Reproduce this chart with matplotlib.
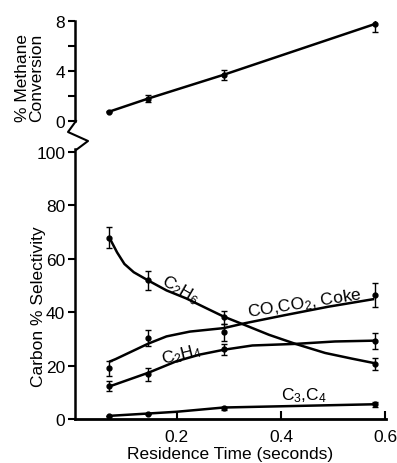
import numpy as np
import matplotlib
matplotlib.use("Agg")
import matplotlib.pyplot as plt
from matplotlib.lines import Line2D

plt.rcParams['font.family'] = ['Liberation Sans', 'DejaVu Sans']
plt.rcParams['mathtext.fontset'] = 'custom'
plt.rcParams['mathtext.rm'] = 'Liberation Sans'
plt.rcParams['mathtext.it'] = 'Liberation Sans'

# residence time of the measured points (seconds)
res_time = [0.07, 0.145, 0.29, 0.58]

# methane conversion (%)
conv = [0.75, 1.8, 3.7, 7.75]
conv_err = [0.05, 0.25, 0.4, 0.65]

# carbon selectivity (%), measured points
c2h6 = [67.8, 51.9, 38.1, 20.7]
c2h6_err = [4.0, 3.6, 2.4, 2.2]
cox = [18.9, 30.4, 32.4, 46.3]
cox_err = [2.8, 3.0, 3.2, 4.4]
c2h4 = [12.3, 16.7, 26.0, 29.3]
c2h4_err = [2.0, 2.4, 2.0, 3.0]
c34 = [1.0, 2.0, 4.0, 5.5]
c34_err = [0.0, 0.0, 0.5, 1.0]

# hand drawn fitted curves
c2h6_fit_x = [0.071, 0.085, 0.099, 0.117, 0.144, 0.180, 0.218, 0.257, 0.290,
              0.330, 0.377, 0.428, 0.485, 0.536, 0.577]
c2h6_fit_y = [67.5, 62.3, 58.0, 54.9, 51.9, 48.1, 45.1, 41.4, 38.3,
              35.2, 31.5, 28.1, 24.7, 22.6, 21.0]
cox_fit_x = [0.072, 0.082, 0.145, 0.18, 0.225, 0.29, 0.33, 0.409, 0.491, 0.577]
cox_fit_y = [21.6, 22.4, 28.2, 30.9, 32.7, 34.0, 35.8, 38.9, 42.0, 44.8]
c2h4_fit_x = [0.072, 0.145, 0.199, 0.244, 0.29, 0.345, 0.428, 0.504, 0.577]
c2h4_fit_y = [12.3, 17.3, 21.6, 24.1, 25.9, 27.5, 28.1, 29.0, 29.3]
c34_fit_x = [0.072, 0.149, 0.199, 0.29, 0.434, 0.577]
c34_fit_y = [1.2, 2.1, 2.7, 4.3, 4.9, 5.5]

W, H = 397, 464
fig = plt.figure(figsize=(W / 100, H / 100), dpi=100)

xlim = (0.004, 0.602)
left, width = 75 / W, 311 / W

# ---- top panel: conversion
ax1 = fig.add_axes([left, (H - 122) / H, width, 100 / H])
ax1.errorbar(res_time, conv, yerr=conv_err, color='black', lw=1.8,
             marker='o', ms=3.5, capsize=2.5, elinewidth=1.0, capthick=1.0)
ax1.set_xlim(*xlim)
ax1.set_ylim(0, 8)
ax1.set_yticks([0, 2, 4, 6, 8])
ax1.set_yticklabels(['0', '', '4', '', '8'])
ax1.set_xticks([])
for s in ['top', 'right', 'bottom']:
    ax1.spines[s].set_visible(False)
ax1.spines['left'].set_linewidth(1.8)
ax1.tick_params(axis='y', direction='out', length=5, width=1.5, labelsize=12.5, pad=2)
ax1.set_ylabel('% Methane\nConversion', fontsize=12.5, linespacing=1.0)
ax1.yaxis.set_label_coords(-0.098, 0.44)
ax1.patch.set_visible(False)

# ---- bottom panel: selectivity
ax2 = fig.add_axes([left, (H - 420) / H, width, 270 / H])
for xs, ys in [(c2h6_fit_x, c2h6_fit_y), (cox_fit_x, cox_fit_y),
               (c2h4_fit_x, c2h4_fit_y), (c34_fit_x, c34_fit_y)]:
    ax2.plot(xs, ys, color='black', lw=1.8, solid_joinstyle='round')
for ys, es in [(c2h6, c2h6_err), (cox, cox_err), (c2h4, c2h4_err), (c34, c34_err)]:
    ax2.errorbar(res_time, ys, yerr=es, fmt='o', color='black', ms=3.5,
                 capsize=2.5, elinewidth=1.0, capthick=1.0)

ax2.set_xlim(*xlim)
ax2.set_ylim(0, 101)
ax2.set_yticks([0, 20, 40, 60, 80, 100])
ax2.set_xticks([0.2, 0.4, 0.6])
ax2.set_xticklabels(['0.2', '0.4', '0.6'])
ax2.spines['top'].set_visible(False)
ax2.spines['right'].set_visible(False)
ax2.spines['left'].set_linewidth(1.8)
ax2.spines['bottom'].set_linewidth(2.0)
ax2.tick_params(axis='y', direction='out', length=5, width=1.5, labelsize=12.5, pad=2)
ax2.tick_params(axis='x', direction='in', length=6, width=1.5, labelsize=12.5, pad=7)
ax2.set_xlabel('Residence Time (seconds)', fontsize=12.5, labelpad=2)
ax2.set_ylabel('Carbon % Selectivity', fontsize=12.5)
ax2.yaxis.set_label_coords(-0.093, 0.42)

ax2.text(0.206, 48.5, 'C$_2$H$_6$', fontsize=12.5, rotation=-30, ha='center', va='center')
ax2.text(0.209, 24.3, 'C$_2$H$_4$', fontsize=12.5, rotation=14, ha='center', va='center')
ax2.text(0.446, 43.6, 'CO,CO$_2$, Coke', fontsize=12.5, rotation=9, ha='center', va='center')
ax2.text(0.444, 9.0, 'C$_3$,C$_4$', fontsize=12.5, ha='center', va='center')

# axis break zigzag between the panels
zx = [76, 68, 88, 76]
zy = [122, 133, 142, 151]
fig.add_artist(Line2D([v / W for v in zx], [1 - v / H for v in zy],
                      transform=fig.transFigure, color='black', lw=1.5))

fig.savefig('out.png', dpi=100)
